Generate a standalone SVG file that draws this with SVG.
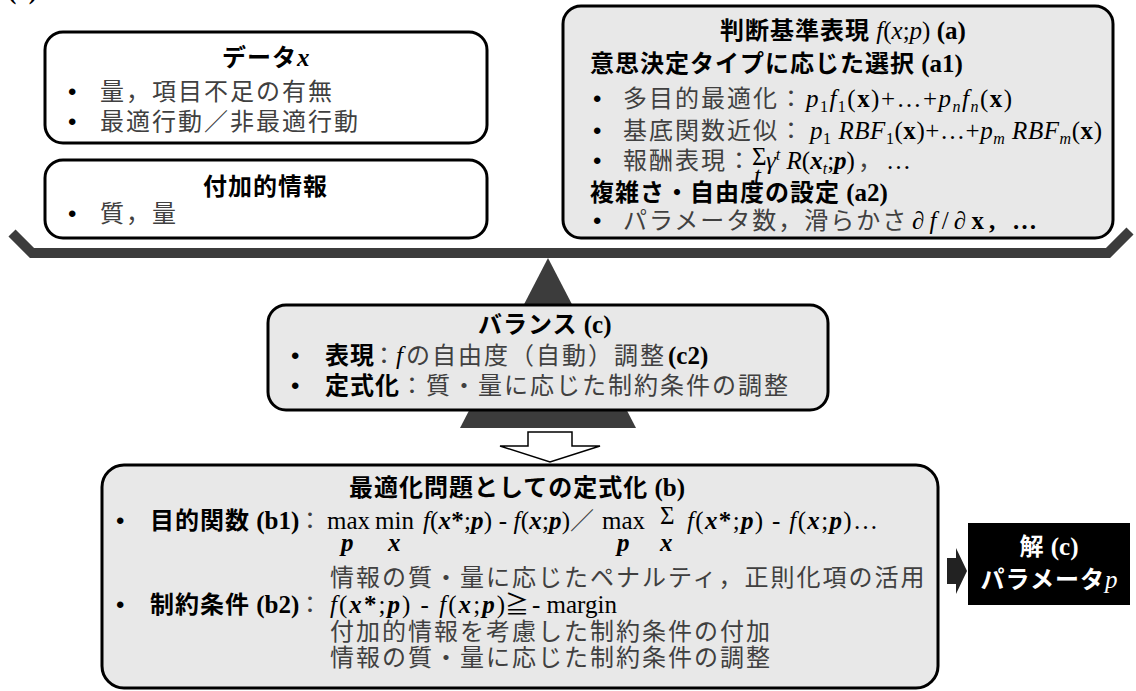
<svg xmlns="http://www.w3.org/2000/svg" width="1136" height="691" viewBox="0 0 1136 691">
<defs>
<style>
.box{stroke:#000;stroke-width:3}
.wf{fill:#fff}
.gf{fill:#e8e8e8}
.jr{font-family:"Noto Sans CJK JP","Noto Sans",sans-serif;font-size:24px;letter-spacing:2px;fill:#404040}
.jb{font-family:"Noto Sans CJK JP","Noto Sans",sans-serif;font-size:24px;font-weight:bold;letter-spacing:1px;fill:#000}
.m{font-family:"Liberation Serif","DejaVu Serif",serif;font-size:25px;letter-spacing:0;fill:#000}
.i{font-style:italic}
.b{font-weight:bold}
.s{font-size:16px}
.bul{font-family:"Liberation Sans",sans-serif;font-size:24px;fill:#000}
.wt{fill:#fff}
</style>
</defs>
<rect width="1136" height="691" fill="#fff"/>
<text class="m b" x="8" y="-1" font-size="22">(a)</text>

<g id="scale">
<polygon points="548,258 636,428 460,428" fill="#3c3c3c"/>
<polyline points="12,233 32,253 1108,253 1130,231" fill="none" stroke="#3c3c3c" stroke-width="10"/>
</g>

<g id="node-data">
<rect class="box wf" x="45" y="32" width="442" height="111" rx="18"/>
<text x="222" y="66"><tspan class="jb">データ</tspan><tspan class="m i b">x</tspan></text>
<text class="bul" x="68" y="100">•</text>
<text class="jr" x="100" y="100">量，項目不足の有無</text>
<text class="bul" x="68" y="130">•</text>
<text class="jr" x="100" y="130">最適行動／非最適行動</text>
</g>

<g id="node-additional">
<rect class="box wf" x="45" y="160" width="442" height="78" rx="18"/>
<text class="jb" x="203" y="195">付加的情報</text>
<text class="bul" x="68" y="222">•</text>
<text class="jr" x="100" y="222">質，量</text>
</g>

<g id="node-criteria">
<rect class="box gf" x="563" y="6" width="550" height="232" rx="18"/>
<text x="720" y="39"><tspan class="jb">判断基準表現</tspan><tspan class="m"> </tspan><tspan class="m i">f</tspan><tspan class="m">(</tspan><tspan class="m i">x</tspan><tspan class="m">;</tspan><tspan class="m i">p</tspan><tspan class="m">) </tspan><tspan class="m b">(a)</tspan></text>
<text x="590" y="72"><tspan class="jb">意思決定タイプに応じた選択</tspan><tspan class="m b"> (a1)</tspan></text>
<text class="bul" x="593" y="107">•</text>
<text class="jr" x="623" y="107">多目的最適化：</text>
<text class="m i" x="806" y="107" textLength="206" lengthAdjust="spacing">p<tspan class="s" dy="5" font-style="normal">1</tspan><tspan dy="-5">f</tspan><tspan class="s" dy="5" font-style="normal">1</tspan><tspan dy="-5" font-style="normal">(</tspan><tspan class="b" font-style="normal">x</tspan><tspan font-style="normal">)+…+</tspan>p<tspan class="s" dy="5">n</tspan><tspan dy="-5">f</tspan><tspan class="s" dy="5">n</tspan><tspan dy="-5" font-style="normal">(</tspan><tspan class="b" font-style="normal">x</tspan><tspan font-style="normal">)</tspan></text>
<text class="bul" x="593" y="139">•</text>
<text class="jr" x="623" y="139">基底関数近似：</text>
<text class="m i" x="810" y="139" textLength="292" lengthAdjust="spacing">p<tspan class="s" dy="5" font-style="normal">1</tspan><tspan dy="-5"> RBF</tspan><tspan class="s" dy="5" font-style="normal">1</tspan><tspan dy="-5" font-style="normal">(</tspan><tspan class="b" font-style="normal">x</tspan><tspan font-style="normal">)+…+</tspan>p<tspan class="s" dy="5">m</tspan><tspan dy="-5"> RBF</tspan><tspan class="s" dy="5">m</tspan><tspan dy="-5" font-style="normal">(</tspan><tspan class="b" font-style="normal">x</tspan><tspan font-style="normal">)</tspan></text>
<text class="bul" x="593" y="169">•</text>
<text class="jr" x="623" y="169">報酬表現：</text>
<text class="m" x="752" y="165" font-size="17">Σ</text>
<text class="m i" x="754" y="184" font-size="15">t</text>
<text class="m i" x="766" y="169">γ<tspan class="s" dy="-9">t</tspan><tspan dy="9"> R</tspan><tspan font-style="normal">(</tspan><tspan class="b">x</tspan><tspan class="s" dy="5">t</tspan><tspan dy="-5" font-style="normal">;</tspan><tspan class="b">p</tspan><tspan font-style="normal">)</tspan></text>
<text class="jr" x="858" y="169">，</text>
<text class="m" x="886" y="169">…</text>
<text x="590" y="201"><tspan class="jb">複雑さ・自由度の設定</tspan><tspan class="m b"> (a2)</tspan></text>
<text class="bul" x="593" y="229">•</text>
<text class="jr" x="623" y="229">パラメータ数，滑らかさ</text>
<text class="m" x="912" y="229" font-size="26" textLength="125" lengthAdjust="spacing">∂<tspan class="i">f</tspan>/∂<tspan class="b">x</tspan><tspan class="b">, …</tspan></text>
</g>

<g id="node-balance">
<rect class="box gf" x="268" y="305" width="560" height="105" rx="18"/>
<text x="478" y="333"><tspan class="jb">バランス</tspan><tspan class="m b"> (c)</tspan></text>
<text class="bul" x="291" y="364">•</text>
<text class="jb" x="325" y="364">表現</text>
<text class="jr" x="372" y="364">：</text>
<text class="m i" x="396" y="364">f</text>
<text class="jr" x="406" y="364">の自由度（自動）調整</text>
<text class="m b" x="668" y="364">(c2)</text>
<text class="bul" x="291" y="394">•</text>
<text class="jb" x="325" y="394">定式化</text>
<text class="jr" x="400" y="394">：質・量に応じた制約条件の調整</text>
</g>

<g id="node-formulation">
<rect class="box gf" x="102" y="465" width="836" height="223" rx="22"/>
<text x="349" y="496"><tspan class="jb">最適化問題としての定式化</tspan><tspan class="m b"> (b)</tspan></text>
<text class="bul" x="116" y="529">•</text>
<text x="150" y="529"><tspan class="jb">目的関数</tspan><tspan class="m b"> (b1)</tspan></text>
<text class="jr" x="298" y="529">：</text>
<text class="m" x="327" y="529">max</text>
<text class="m i b" x="341" y="551" font-size="22">p</text>
<text class="m" x="375" y="529">min</text>
<text class="m i b" x="388" y="551" font-size="22">x</text>
<text class="m" x="423" y="529" font-size="26" textLength="147" lengthAdjust="spacing"><tspan class="i">f</tspan>(<tspan class="i b">x</tspan><tspan class="b">*</tspan>;<tspan class="i b">p</tspan>) - <tspan class="i">f</tspan>(<tspan class="i b">x</tspan>;<tspan class="i b">p</tspan>)</text>
<text class="jr" x="570" y="529">／</text>
<text class="m" x="602" y="529">max</text>
<text class="m i b" x="617" y="551" font-size="22">p</text>
<text class="m" x="660" y="524" font-size="17">Σ</text>
<text class="m i b" x="660" y="551" font-size="22">x</text>
<text class="m" x="687" y="529" font-size="26" textLength="191" lengthAdjust="spacing"><tspan class="i">f</tspan>(<tspan class="i b">x</tspan><tspan class="b">*</tspan>;<tspan class="i b">p</tspan>) - <tspan class="i">f</tspan>(<tspan class="i b">x</tspan>;<tspan class="i b">p</tspan>)…</text>
<text class="jr" x="330" y="586">情報の質・量に応じたペナルティ，正則化項の活用</text>
<text class="bul" x="116" y="613">•</text>
<text x="150" y="613"><tspan class="jb">制約条件</tspan><tspan class="m b"> (b2)</tspan></text>
<text class="jr" x="298" y="613">：</text>
<text class="m" x="330" y="613" font-size="26" textLength="175" lengthAdjust="spacing"><tspan class="i">f</tspan>(<tspan class="i b">x</tspan><tspan class="b">*</tspan>;<tspan class="i b">p</tspan>) - <tspan class="i">f</tspan>(<tspan class="i b">x</tspan>;<tspan class="i b">p</tspan>)</text>
<text class="jr" x="505" y="613" style="fill:#000">≧</text>
<text class="m" x="532" y="613">- margin</text>
<text class="jr" x="330" y="640">付加的情報を考慮した制約条件の付加</text>
<text class="jr" x="330" y="666">情報の質・量に応じた制約条件の調整</text>
</g>

<g id="node-solution">
<rect x="968" y="523" width="162" height="82" fill="#000"/>
<text x="1049" y="555" text-anchor="middle"><tspan class="jb wt">解</tspan><tspan class="m b wt"> (c)</tspan></text>
<text x="1049" y="588" text-anchor="middle"><tspan class="jb wt">パラメータ</tspan><tspan class="m i wt">p</tspan></text>
</g>

<g id="connectors">
<polygon points="528,432 572,432 572,446 600,446 550,462 500,446 528,446" fill="#fff" stroke="#000" stroke-width="1.5"/>
<polygon points="947,558 956,558 956,548 967,571 956,594 956,584 947,584" fill="#222"/>
</g>
</svg>
